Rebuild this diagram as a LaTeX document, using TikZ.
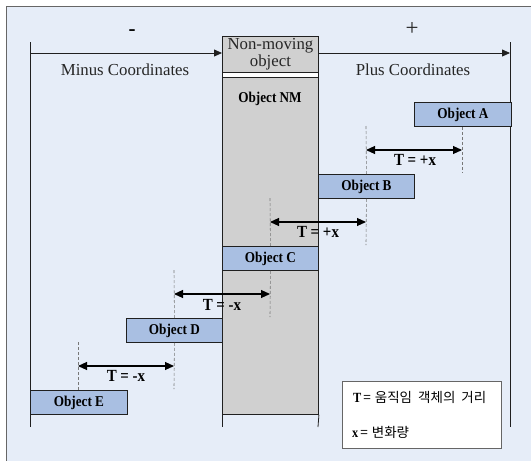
\documentclass[tikz,border=0pt]{standalone}
\usepackage{fontspec}
\setmainfont{Liberation Serif}
\newfontfamily\condbf[FakeStretch=0.88]{Liberation Serif Bold}
\newfontfamily\krfont{Noto Sans CJK KR}
\usetikzlibrary{arrows.meta}
\definecolor{bgblue}{HTML}{E6EDF8}
\definecolor{objblue}{HTML}{A9BFE2}
\definecolor{nmgray}{HTML}{D0D0D0}
\definecolor{framegray}{HTML}{666666}
\definecolor{lineblack}{HTML}{202020}
\definecolor{dashgray}{HTML}{777777}
\tikzset{
  obj/.style={draw=lineblack, line width=0.9pt, fill=objblue, minimum width=96pt, minimum height=24pt,
    inner sep=0pt, anchor=north west, font=\condbf\fontsize{15}{16}\selectfont},
  axis/.style={draw=lineblack, line width=0.8pt},
  axarrow/.style={draw=lineblack, line width=0.8pt, -{Triangle[length=8pt,width=7pt]}},
  tarrow/.style={draw=black, line width=1.1pt, {Triangle[length=9pt,width=8pt]}-{Triangle[length=9pt,width=8pt]}},
  guide/.style={draw=dashgray, line width=0.6pt, dash pattern=on 3pt off 2pt},
  tlabel/.style={font=\condbf\fontsize{17}{18}\selectfont, inner sep=0pt},
  reglabel/.style={font=\fontsize{16.8}{18}\selectfont, inner sep=0pt, text=black!85},
}
\begin{document}
\begin{tikzpicture}[x=1pt,y=-1pt]
\useasboundingbox (0,0) rectangle (531,461);
% background frame
\fill[bgblue] (6,6) rectangle (531,461);
\draw[framegray, line width=1pt] (6,461) -- (6,6) -- (531,6);

% vertical axis lines
\coordinate (L0) at (30,42); \coordinate (L1) at (30,427);
\coordinate (R0) at (510,42); \coordinate (R1) at (510,427);
\draw[axis] (L0) -- (L1);
\draw[axis] (R0) -- (R1);

% non-moving object
\node[draw=lineblack, line width=0.9pt, fill=white, minimum width=96pt, minimum height=6pt, inner sep=0pt, anchor=north west] (gap) at (222,72) {};
\node[draw=lineblack, line width=0.9pt, fill=nmgray, minimum width=96pt, minimum height=337pt, inner sep=0pt, anchor=north west] (NM) at (222,77) {};
\node[draw=lineblack, line width=0.9pt, fill=nmgray, minimum width=96pt, minimum height=36pt, inner sep=0pt, anchor=north west,
  align=center, font=\fontsize{16.8}{17}\selectfont, text=black!85] (NMtop) at (222,36) {Non-moving\\object};
\node[font=\condbf\fontsize{15}{16}\selectfont, inner sep=0pt] (NMlabel) at (270,99) {Object NM};
\coordinate (NMl) at (222,427); \coordinate (NMr) at (318,427);
\draw[axis] (NM.south west) -- (NMl);
\draw[axis] (NM.south east) -- (NMr);

% top arrows
\coordinate (Lh) at (30,53); \coordinate (Rh) at (510,53);
\draw[axarrow] (Lh) -- (Lh -| NMtop.west);
\draw[axarrow] (Lh -| NMtop.east) -- (Rh);
\node[font=\bfseries\fontsize{21}{22}\selectfont, inner sep=0pt] (minus) at (132,33) {-};
\node[font=\fontsize{23}{24}\selectfont, inner sep=0pt, text=black!85] (plus) at (412,29) {+};
\node[reglabel] (minuslbl) at (125,70) {Minus Coordinates};
\node[reglabel] (pluslbl) at (413,70) {Plus Coordinates};

% objects
\node[obj, minimum width=97pt] (A) at (414,102) {Object A};
\node[obj] (B) at (318,174) {Object B};
\node[obj] (C) at (222,246) {Object C};
\node[obj] (D) at (126,318) {Object D};
\node[obj, minimum width=97pt] (E) at (30,390) {Object E};

% guide coordinates
\coordinate (a1) at (462,173);
\coordinate (b0) at (366,126); \coordinate (b1) at (366,245);
\coordinate (c0) at (270,198); \coordinate (c1) at (270,317);
\coordinate (d0) at (174,270); \coordinate (d1) at (174,389);
\coordinate (e0) at (78,342);
\draw[guide] (A.south -| a1) -- (a1);
\draw[guide] (b0) -- (B.north); \draw[guide] (B.south) -- (b1);
\draw[guide] (c0) -- (C.north); \draw[guide] (C.south) -- (c1);
\draw[guide] (d0) -- (D.north); \draw[guide] (D.south) -- (d1);
\draw[guide] (e0) -- (E.north -| e0);

% displacement arrows
\coordinate (t1a) at (366,150); \coordinate (t1b) at (462,150);
\coordinate (t2a) at (270,222); \coordinate (t2b) at (366,222);
\coordinate (t3a) at (174,294); \coordinate (t3b) at (270,294);
\coordinate (t4a) at (78,366);  \coordinate (t4b) at (174,366);
\draw[tarrow] (t1a) -- (t1b);
\draw[tarrow] (t2a) -- (t2b);
\draw[tarrow] (t3a) -- (t3b);
\draw[tarrow] (t4a) -- (t4b);
\node[tlabel] (l1) at (415,160) {T = +x};
\node[tlabel] (l2) at (318,232) {T = +x};
\node[tlabel] (l3) at (222,305) {T = -x};
\node[tlabel] (l4) at (126,376) {T = -x};

% legend
\node[draw=framegray, line width=0.8pt, fill=white, minimum width=159pt, minimum height=67pt, inner sep=0pt, anchor=north west] (legend) at (342,381) {};
\node[anchor=west, inner sep=0pt] (leg1) at (353,397) {\condbf\fontsize{14}{15}\selectfont T\kern2pt{\krfont\fontsize{13.5}{15}\selectfont =\kern4pt 움직임\kern6pt 객체의\kern6pt 거리}};
\node[anchor=west, inner sep=0pt] (leg2) at (352,432) {\condbf\fontsize{14}{15}\selectfont x\kern2pt{\krfont\fontsize{13.5}{15}\selectfont =\kern4pt 변화량}};
\end{tikzpicture}
\end{document}
